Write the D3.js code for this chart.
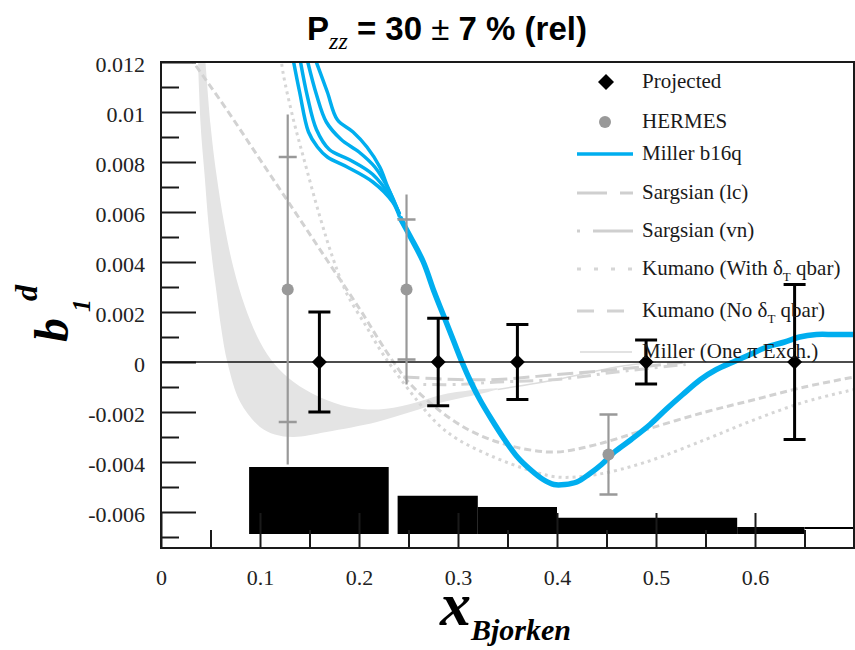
<!DOCTYPE html>
<html><head><meta charset="utf-8">
<script src="https://cdn.jsdelivr.net/npm/d3@7"></script>
<style>
body{margin:0;background:#fff} svg{display:block}
.serif{font-family:"Liberation Serif","Times New Roman","DejaVu Serif",serif !important;}
</style>
</head><body>
<svg id="chart" width="855" height="650"></svg>
<script>
// ---------------- data ----------------
const xTickValues = [0, 0.1, 0.2, 0.3, 0.4, 0.5, 0.6];
const xTickLabels = ["0", "0.1", "0.2", "0.3", "0.4", "0.5", "0.6"];
const xMinorTicks = [0.05, 0.15, 0.25, 0.35, 0.45, 0.55, 0.65];
const yTickValues = [-0.006, -0.004, -0.002, 0, 0.002, 0.004, 0.006, 0.008, 0.01, 0.012];
const yTickLabels = ["-0.006", "-0.004", "-0.002", "0", "0.002", "0.004", "0.006", "0.008", "0.01", "0.012"];
const yMinorTicks = [-0.007, -0.005, -0.003, -0.001, 0.001, 0.003, 0.005, 0.007, 0.009, 0.011];

// Projected points
const projX = [0.16, 0.28, 0.36, 0.49, 0.64];
const projY = [0, 0, 0, 0, 0];
const projErr = [0.0020, 0.00175, 0.0015, 0.00088, 0.0031];

// HERMES points
const hermesX = [0.128, 0.248, 0.452];
const hermesY = [0.0029, 0.0029, -0.0037];
const hermesStat = [0.0053, 0.0028, 0.0016];
const hermesTot = [0.0070, 0.0038, 0.0016];

// systematic bars
const sysX0 = [0.089, 0.239, 0.32, 0.40, 0.582, 0.65];
const sysX1 = [0.230, 0.32, 0.40, 0.582, 0.65, 0.70];
const sysTop = [-0.0042, -0.00535, -0.0058, -0.00623, -0.0066, -0.0066];
const sysBottom = [-0.00688, -0.00688, -0.00688, -0.00688, -0.00688, -0.00668];

// Miller b16q (several variants at low x, common tail)
const millerA = [[0.133,0.0122],[0.140,0.0108],[0.149,0.0092],[0.158,0.0086],[0.168,0.0082],[0.188,0.0078],[0.214,0.0072],[0.234,0.0064],[0.241,0.0058]];
const millerB = [[0.140,0.0122],[0.148,0.0106],[0.157,0.0093],[0.170,0.0085],[0.190,0.0081],[0.214,0.0075],[0.232,0.0066],[0.241,0.0059]];
const millerC = [[0.147,0.0122],[0.157,0.0107],[0.167,0.0096],[0.182,0.0089],[0.200,0.0084],[0.216,0.0078],[0.230,0.0069],[0.241,0.0059]];
const millerD = [[0.155,0.0122],[0.168,0.0108],[0.178,0.0097],[0.194,0.0092],[0.208,0.0086],[0.221,0.0078],[0.229,0.0070],[0.241,0.0059]];
const millerTail = [[0.241,0.0058],[0.252,0.0050],[0.265,0.0040],[0.276,0.0028],[0.285,0.0019],[0.295,0.0009],[0.304,0.0],[0.313,-0.0008],[0.322,-0.0015],[0.334,-0.0023],[0.347,-0.0031],[0.360,-0.0038],[0.373,-0.0043],[0.386,-0.0047],[0.397,-0.0049],[0.408,-0.0049],[0.420,-0.0048],[0.432,-0.0045],[0.445,-0.0041],[0.458,-0.0036],[0.475,-0.0031],[0.494,-0.0025],[0.510,-0.0019],[0.527,-0.0013],[0.545,-0.0007],[0.561,-0.0003],[0.578,0.0],[0.595,0.0003],[0.612,0.0006],[0.630,0.0008],[0.645,0.0010],[0.662,0.0011],[0.680,0.0011],[0.700,0.0011]];

// Kumano curves
const kumanoWith = [[0.121,0.0122],[0.1236,0.0115],[0.1337,0.0097],[0.1438,0.0082],[0.1606,0.0058],[0.1741,0.0041],[0.1875,0.00275],[0.2077,0.0014],[0.2212,0.0005],[0.235,-0.0003],[0.26,-0.0016],[0.28,-0.0025],[0.30,-0.0031],[0.336,-0.0038],[0.37,-0.0043],[0.40,-0.0046],[0.44,-0.0045],[0.49,-0.0040],[0.55,-0.0031],[0.60,-0.0023],[0.65,-0.0016],[0.70,-0.0011]];
const kumanoNo = [[0.029,0.0122],[0.0663,0.0101],[0.10,0.0081],[0.1337,0.0061],[0.1673,0.0041],[0.201,0.0021],[0.228,0.0004],[0.25,-0.0008],[0.28,-0.0019],[0.31,-0.0027],[0.34,-0.0032],[0.37,-0.0035],[0.40,-0.0036],[0.44,-0.0033],[0.49,-0.0027],[0.55,-0.0020],[0.60,-0.0015],[0.65,-0.0010],[0.70,-0.0006]];

// Sargsian curves
const sargsianLC = [[0.245,-0.0006],[0.30,-0.0007],[0.34,-0.0007],[0.40,-0.0005],[0.46,-0.0003],[0.53,0.0]];
const sargsianVN = [[0.265,-0.0009],[0.30,-0.0009],[0.34,-0.0008],[0.40,-0.0007],[0.46,-0.0004],[0.53,-0.0001]];

// Miller one-pion exchange band and line
const onePiUpper = [[0.044,0.0125],[0.050,0.0095],[0.056,0.0075],[0.064,0.0055],[0.073,0.0038],[0.085,0.0022],[0.100,0.0008],[0.115,-0.0001],[0.134,-0.0008],[0.160,-0.0014],[0.190,-0.0018],[0.220,-0.0019],[0.250,-0.0017],[0.285,-0.0013],[0.32,-0.0011],[0.34,-0.00105]];
const onePiLower = [[0.037,0.0125],[0.040,0.0095],[0.044,0.0075],[0.048,0.0055],[0.052,0.0040],[0.056,0.0028],[0.061,0.0013],[0.067,0.0],[0.080,-0.0016],[0.100,-0.0026],[0.115,-0.0029],[0.134,-0.0030],[0.167,-0.0028],[0.218,-0.0024],[0.252,-0.0020],[0.285,-0.0016],[0.32,-0.0013],[0.34,-0.0011]];
const onePiLine = [[0.34,-0.0011],[0.40,-0.0007],[0.46,-0.0002],[0.50,0.0]];

const legendLabels = ["Projected", "HERMES", "Miller b16q", "Sargsian (lc)", "Sargsian (vn)", "Kumano (With δ_T qbar)", "Kumano (No δ_T qbar)", "Miller (One π Exch.)"];

// ---------------- drawing ----------------
const svg = d3.select("#chart");
const x = d3.scaleLinear().domain([0, 0.7]).range([161, 854]);
const y = d3.scaleLinear().domain([-0.00744, 0.012]).range([548, 62]);
const sans = "'Liberation Sans', Arial, sans-serif";

svg.append("defs").append("clipPath").attr("id", "plotclip")
  .append("rect").attr("x", x(0)).attr("y", y(0.012)).attr("width", x(0.7) - x(0)).attr("height", y(-0.00744) - y(0.012));

const plot = svg.append("g").attr("clip-path", "url(#plotclip)");
const line = d3.line().x(d => x(d[0])).y(d => y(d[1])).curve(d3.curveCatmullRom.alpha(0.5));

// band
const pUp = line(onePiUpper);
const pLo = line(onePiLower.slice().reverse());
plot.append("path").attr("d", pUp + "L" + pLo.slice(1) + "Z").attr("fill", "#e4e4e4").attr("stroke", "none");
plot.append("path").attr("d", line(onePiLine)).attr("fill", "none").attr("stroke", "#dcdcdc").attr("stroke-width", 1.5);

// gray model curves
plot.append("path").attr("d", line(kumanoNo)).attr("fill", "none").attr("stroke", "#d2d2d2").attr("stroke-width", 3).attr("stroke-dasharray", "7,4");
plot.append("path").attr("d", line(kumanoWith)).attr("fill", "none").attr("stroke", "#d6d6d6").attr("stroke-width", 3).attr("stroke-dasharray", "3,4");
plot.append("path").attr("d", line(sargsianLC)).attr("fill", "none").attr("stroke", "#d0d0d0").attr("stroke-width", 3).attr("stroke-dasharray", "16,6");
plot.append("path").attr("d", line(sargsianVN)).attr("fill", "none").attr("stroke", "#d4d4d4").attr("stroke-width", 3).attr("stroke-dasharray", "3,6,14,6");

// systematic bars
plot.selectAll("rect.sys").data(sysX0).enter().append("rect").attr("class", "sys")
  .attr("x", (d, i) => x(sysX0[i]))
  .attr("width", (d, i) => x(sysX1[i]) - x(sysX0[i]))
  .attr("y", (d, i) => y(sysTop[i]))
  .attr("height", (d, i) => Math.max(1.5, y(sysBottom[i]) - y(sysTop[i])))
  .attr("fill", "#000");

// axes ticks (inside)
const axG = svg.append("g");
const yMajor = d3.axisLeft(y).tickValues(yTickValues).tickSize(-35).tickPadding(16)
  .tickFormat((d, i) => yTickLabels[i]);
const yMinor = d3.axisLeft(y).tickValues(yMinorTicks).tickSize(-18).tickFormat("");
const xMajor = d3.axisBottom(x).tickValues(xTickValues).tickSize(-35).tickFormat((d, i) => xTickLabels[i]);
const xMinor = d3.axisBottom(x).tickValues(xMinorTicks).tickSize(-18).tickFormat("");

function styleAxis(g) {
  g.attr("font-family", null).attr("font-size", null);
  g.select(".domain").remove();
  g.selectAll(".tick line").attr("stroke", "#1a1a1a").attr("stroke-width", 2);
  g.selectAll("text").attr("class", "serif").style("font-size", "22px").attr("fill", "#222");
}
axG.append("g").attr("transform", `translate(${x(0)},0)`).call(yMajor).call(styleAxis)
  .selectAll("text").attr("dy", "0.45em");
axG.append("g").attr("transform", `translate(${x(0)},0)`).call(yMinor).call(styleAxis);
axG.append("g").attr("transform", `translate(0,${y(-0.00744)})`).call(xMajor).call(styleAxis)
  .selectAll("text").attr("y", 37).attr("dy", null);
axG.append("g").attr("transform", `translate(0,${y(-0.00744)})`).call(xMinor).call(styleAxis);

// zero line
svg.append("line").attr("x1", x(0)).attr("x2", x(0.7)).attr("y1", y(0)).attr("y2", y(0))
  .attr("stroke", "#111").attr("stroke-width", 1.5);

// Miller b16q
const blue = "#00aeef";
[millerA, millerB, millerC, millerD].forEach(arr => {
  plot.append("path").attr("d", line(arr)).attr("fill", "none").attr("stroke", blue).attr("stroke-width", 3.5);
});
plot.append("path").attr("d", line(millerTail)).attr("fill", "none").attr("stroke", blue).attr("stroke-width", 5.5);

// HERMES
const hermesCol = "#999999";
const hg = svg.append("g");
hermesX.forEach((hx, i) => {
  const cx = x(hx);
  hg.append("line").attr("x1", cx).attr("x2", cx).attr("y1", y(hermesY[i] + hermesTot[i])).attr("y2", y(hermesY[i] - hermesTot[i]))
    .attr("stroke", hermesCol).attr("stroke-width", 2.2);
  [hermesY[i] + hermesStat[i], hermesY[i] - hermesStat[i]].forEach(v => {
    hg.append("line").attr("x1", cx - 9).attr("x2", cx + 9).attr("y1", y(v)).attr("y2", y(v))
      .attr("stroke", hermesCol).attr("stroke-width", 2.5);
  });
  hg.append("circle").attr("cx", cx).attr("cy", y(hermesY[i])).attr("r", 6).attr("fill", hermesCol);
});

// Projected
const pg = svg.append("g");
const diamond = (cx, cy, s) => `M${cx},${cy - s}L${cx + s},${cy}L${cx},${cy + s}L${cx - s},${cy}Z`;
projX.forEach((px, i) => {
  const cx = x(px);
  pg.append("line").attr("x1", cx).attr("x2", cx).attr("y1", y(projY[i] + projErr[i])).attr("y2", y(projY[i] - projErr[i]))
    .attr("stroke", "#000").attr("stroke-width", 3);
  [projY[i] + projErr[i], projY[i] - projErr[i]].forEach(v => {
    pg.append("line").attr("x1", cx - 11).attr("x2", cx + 11).attr("y1", y(v)).attr("y2", y(v))
      .attr("stroke", "#000").attr("stroke-width", 3);
  });
  pg.append("path").attr("d", diamond(cx, y(projY[i]), 7.5)).attr("fill", "#000");
});

// frame
svg.append("rect").attr("x", x(0)).attr("y", y(0.012)).attr("width", x(0.7) - x(0)).attr("height", y(-0.00744) - y(0.012))
  .attr("fill", "none").attr("stroke", "#1a1a1a").attr("stroke-width", 2);

// legend
const lg = svg.append("g");
const legBase = [88, 128, 160, 199, 237, 275, 317, 358];
const symX0 = 577, symX1 = 633, textX = 642;
legendLabels.forEach((lab, i) => {
  const t = lg.append("text").attr("class", "serif").attr("x", textX).attr("y", legBase[i])
    .style("font-size", "21px").attr("fill", "#1a1a1a");
  if (lab.includes("δ_T")) {
    const parts = lab.split("δ_T");
    t.append("tspan").text(parts[0] + "δ");
    t.append("tspan").style("font-size", "13px").attr("dy", 6).text("T");
    t.append("tspan").attr("dy", -6).text(parts[1]);
  } else {
    t.text(lab);
  }
});
const sy = legBase.map(b => b - 6);
lg.append("path").attr("d", diamond(606, sy[0], 8)).attr("fill", "#000");
lg.append("circle").attr("cx", 605).attr("cy", sy[1]).attr("r", 6).attr("fill", hermesCol);
const legLine = (i, col, w, dash) => lg.append("line").attr("x1", symX0).attr("x2", symX1).attr("y1", sy[i]).attr("y2", sy[i])
  .attr("stroke", col).attr("stroke-width", w).attr("stroke-dasharray", dash);
legLine(2, blue, 3.5, null);
legLine(3, "#cfcfcf", 3, "30,13");
legLine(4, "#cfcfcf", 3, "3,13,40");
legLine(5, "#d6d6d6", 3, "4,13");
legLine(6, "#d2d2d2", 3, "17,13");
lg.append("line").attr("x1", 580).attr("x2", 632).attr("y1", sy[7]).attr("y2", sy[7]).attr("stroke", "#d8d8d8").attr("stroke-width", 1.5);

// title
const title = svg.append("text").attr("x", 447).attr("y", 40).attr("text-anchor", "middle")
  .style("font-family", sans).style("font-weight", "bold").style("font-size", "33px").attr("fill", "#000");
title.append("tspan").text("P");
title.append("tspan").attr("class", "serif").style("font-style", "italic").style("font-weight", "normal").style("font-size", "24px").attr("dy", 9).text("zz");
title.append("tspan").attr("dy", -9).text(" = 30 ");
title.append("tspan").style("font-weight", "normal").text("±");
title.append("tspan").text(" 7 % (rel)");

// x axis title
const xt = svg.append("text").attr("class", "serif").attr("x", 440).attr("y", 625)
  .style("font-weight", "bold").style("font-style", "italic").style("font-size", "62px").attr("fill", "#000");
xt.append("tspan").text("x");
xt.append("tspan").style("font-size", "30px").attr("dy", 15).text("Bjorken");

// y axis title
const yt = svg.append("text").attr("class", "serif").attr("transform", "translate(68,342) rotate(-90)")
  .style("font-weight", "bold").style("font-style", "italic").style("font-size", "48px").attr("fill", "#000");
yt.append("tspan").text("b");
yt.append("tspan").style("font-size", "26px").attr("dx", 6).attr("dy", 22).text("1");
yt.append("tspan").style("font-size", "32px").attr("dx", -2).attr("dy", -53).text("d");
</script>
</body></html>
